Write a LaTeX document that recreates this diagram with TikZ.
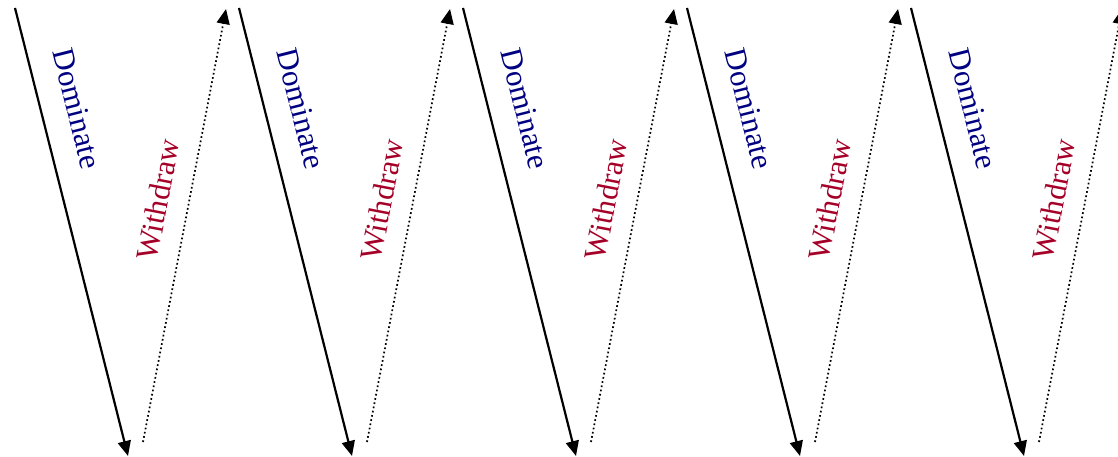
\documentclass[tikz,border=0pt]{standalone}
\usepackage{fontspec}
\setmainfont{Liberation Serif}
\usetikzlibrary{arrows.meta}
\definecolor{domblue}{RGB}{0,0,128}
\definecolor{wdred}{RGB}{165,0,40}
\begin{document}
\begin{tikzpicture}[x=1pt,y=1pt,
  domline/.style={line width=2.2pt,-{Triangle[length=15pt,width=13pt]}},
  wdline/.style={line width=1.7pt,dash pattern=on 1.7pt off 2.6pt,-{Triangle[length=15pt,width=13pt]}},
  lbl/.style={font=\fontsize{31}{31}\selectfont,inner sep=0pt,sloped},
  domlbl/.style={lbl,text=domblue},
  wdlbl/.style={lbl,text=wdred}]
\useasboundingbox (0,0) rectangle (1118,456);
\foreach \k in {0,...,4}{
  \coordinate (ds\k) at (15+224*\k,448);
  \coordinate (de\k) at (128+224*\k,0);
  \coordinate (ws\k) at (143+224*\k,14);
  \coordinate (we\k) at (226+224*\k,447);
  \draw[domline] (ds\k) -- node[domlbl,pos=0.244,above=24pt]{Dominate} (de\k);
  \draw[wdline] (ws\k) -- node[wdlbl,pos=0.547,above=19pt]{Withdraw} (we\k);
}
\end{tikzpicture}
\end{document}
